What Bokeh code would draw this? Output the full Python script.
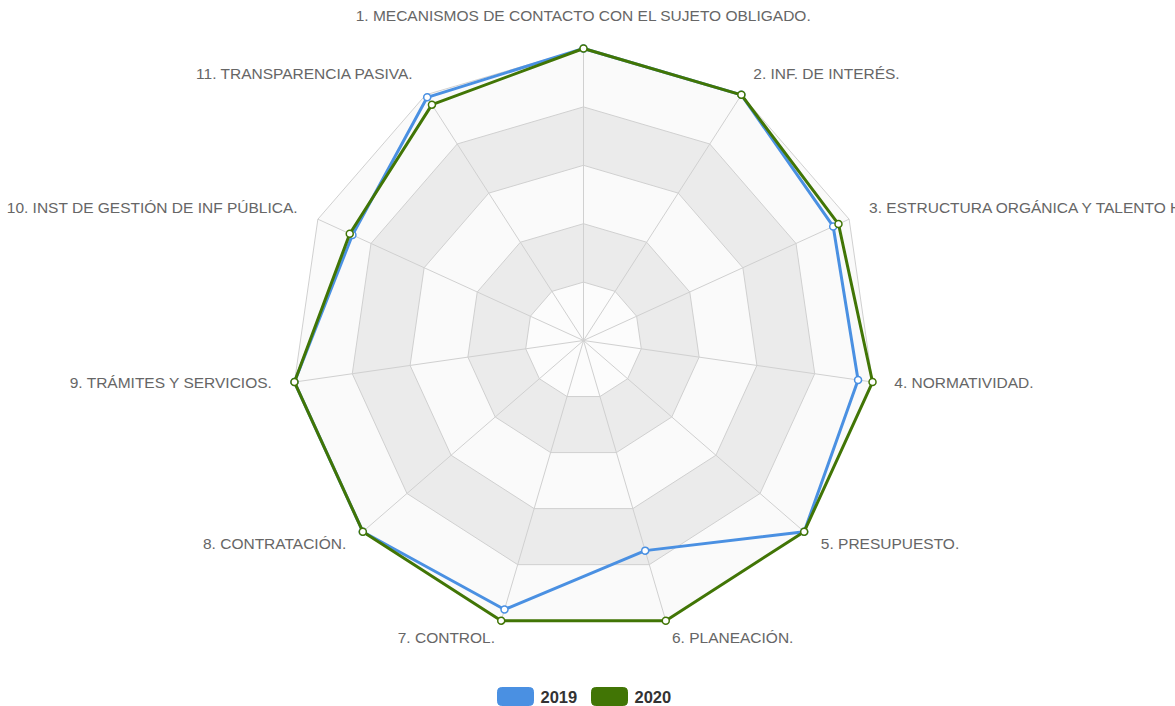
import numpy as np
from bokeh.plotting import figure
from bokeh.models import Range1d, ColumnDataSource
from bokeh.core.properties import value
from bokeh.embed import file_html
from bokeh.resources import INLINE

# ---------------- data ----------------
categories = [
    "1. MECANISMOS DE CONTACTO CON EL SUJETO OBLIGADO.",
    "2. INF. DE INTERÉS.",
    "3. ESTRUCTURA ORGÁNICA Y TALENTO HUMANO.",
    "4. NORMATIVIDAD.",
    "5. PRESUPUESTO.",
    "6. PLANEACIÓN.",
    "7. CONTROL.",
    "8. CONTRATACIÓN.",
    "9. TRÁMITES Y SERVICIOS.",
    "10. INST DE GESTIÓN DE INF PÚBLICA.",
    "11. TRANSPARENCIA PASIVA.",
]
series_names = ["2019", "2020"]
values_2019 = [100, 100, 94, 95, 100, 75, 96, 100, 100, 87, 99]
values_2020 = [100, 100, 96, 100, 100, 100, 100, 100, 100, 88, 96]
grid_levels = [20, 40, 60, 80, 100]
max_value = 100

# ---------------- styles ----------------
series_colors = ["#4a90e2", "#417505"]
R = 292.0
FONT = "Liberation Sans"

n = len(categories)
angles = np.pi / 2 - 2 * np.pi * np.arange(n) / n
cosa, sina = np.cos(angles), np.sin(angles)


def to_xy(vals):
    r = np.asarray(vals, dtype=float) / max_value * R
    return r * cosa, r * sina


p = figure(width=1175, height=706,
           x_range=Range1d(-583, 592), y_range=Range1d(-366, 340),
           output_backend="svg", toolbar_location=None, min_border=0)
p.axis.visible = False
p.grid.visible = False
p.outline_line_color = None
p.background_fill_color = "white"
p.border_fill_color = "white"

# grid bands (outermost first)
band_colors = ["#fcfcfc", "#ebebeb", "#fafafa", "#ebebeb", "#fafafa"]
for i in reversed(range(len(grid_levels))):
    gx, gy = to_xy([grid_levels[i]] * n)
    p.patch(list(gx), list(gy), fill_color=band_colors[i],
            line_color="#d0d0d0", line_width=1)

# spokes
ox, oy = to_xy([max_value] * n)
p.segment(x0=[0] * n, y0=[0] * n, x1=list(ox), y1=list(oy),
          line_color="#d0d0d0", line_width=1)

# series
for name, vals, col in zip(series_names, [values_2019, values_2020], series_colors):
    sx, sy = to_xy(vals)
    p.line(list(sx) + [sx[0]], list(sy) + [sy[0]], line_color=col, line_width=3)
    p.scatter(list(sx), list(sy), marker="circle", size=7, fill_color="white",
              line_color=col, line_width=1.5)

# category labels
lr = np.array([R + 25 if s > 0.99 else R + 22 for s in sina])
lx, ly = lr * cosa, lr * sina
ly = ly + np.where(sina > 0.99, 0, np.where(sina < -0.9, 4, 3))
aligns = ["center" if abs(c) < 0.01 else ("left" if c > 0 else "right") for c in cosa]
baselines = ["bottom" if s > 0.99 else "middle" for s in sina]
lsrc = ColumnDataSource(dict(x=lx, y=ly, text=categories, align=aligns, base=baselines))
p.text(x="x", y="y", text="text", source=lsrc, text_align="align",
       text_baseline="base", text_font=value(FONT), text_font_size="15.5px",
       text_color="#666666")

# legend (manual, rounded boxes)
leg_left = [-86, 8]
box_w = 36
for name, col, lx0 in zip(series_names, series_colors, leg_left):
    p.quad(left=[lx0], right=[lx0 + box_w], top=[-347], bottom=[-365],
           fill_color=col, line_color=col, border_radius=4)
    p.text(x=[lx0 + box_w + 7], y=[-356], text=[name], text_align="left",
           text_baseline="middle", text_font=value(FONT), text_font_size="16.5px",
           text_font_style="bold", text_color="#333333")

open("out.html", "w").write(file_html(p, INLINE))
